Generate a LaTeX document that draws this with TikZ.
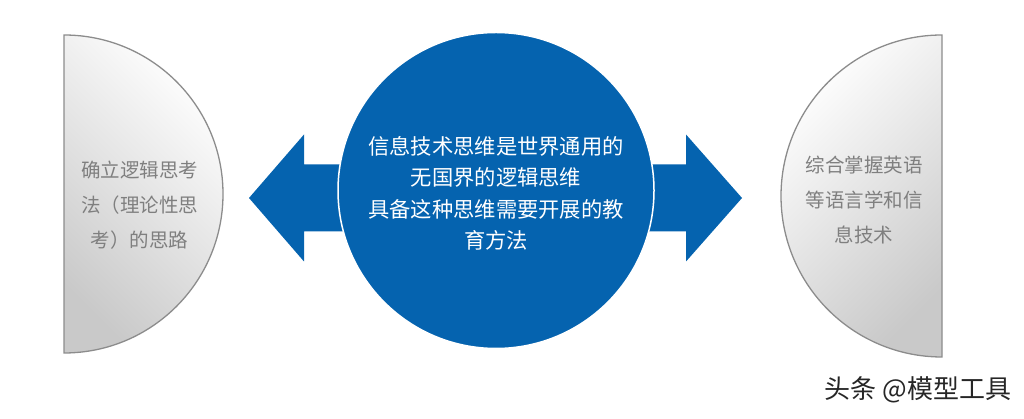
\documentclass[tikz,border=0pt]{standalone}
\usepackage{fontspec}
\setmainfont{Noto Sans CJK SC}
\usepackage{tikz}

\definecolor{hubblue}{HTML}{0563AF}
\definecolor{rimgray}{HTML}{8C8C8C}
\definecolor{notegray}{HTML}{7F7F7F}

\begin{document}
\begin{tikzpicture}[x=1pt,y=1pt,
	halfdisk/.style={draw=rimgray,line width=1.3pt,top color=white,bottom color=gray!42},
	note/.style={text=notegray,align=center,font=\fontsize{19.5}{35}\selectfont},
	hubnote/.style={text=white,align=center,font=\fontsize{21.3}{31.5}\selectfont}]

	\useasboundingbox (0,0) rectangle (1024,419);

	\coordinate (lc) at (64,225);
	\coordinate (rc) at (942,223);
	
	% the two half disks
	\draw[halfdisk,shading angle=-45] (64,384) arc (90:-90:159) -- cycle;
	\draw[halfdisk,shading angle=45] (942,384) arc (90:270:161) -- cycle;
	
	% double arrow behind the hub
	\fill[hubblue] (249,221) -- (304,284.5) -- (304,254.5) -- (686,254.5) -- (686,284.5)
		-- (742,221) -- (686,157.5) -- (686,187.5) -- (304,187.5) -- (304,157.5) -- cycle;
	
	\node[circle,fill=hubblue,draw=white,line width=1.5pt,minimum size=316pt,inner sep=0pt] (hub) at (496,228.5) {};
	\node[hubnote] (hubtext) at (496,225.5) {信息技术思维是世界通用的\\无国界的逻辑思维\\具备这种思维需要开展的教\\育方法};
	
	\node[note] (lefttext) at (139.5,214) {确立逻辑思考\\法（理论性思\\考）的思路};
	\node[note] (righttext) at (864,219) {综合掌握英语\\等语言学和信\\息技术};
	
	\node[text=black!85,font=\fontsize{26}{26}\selectfont] (mark) at (918,29) {头条 @模型工具};
	
\end{tikzpicture}
\end{document}
